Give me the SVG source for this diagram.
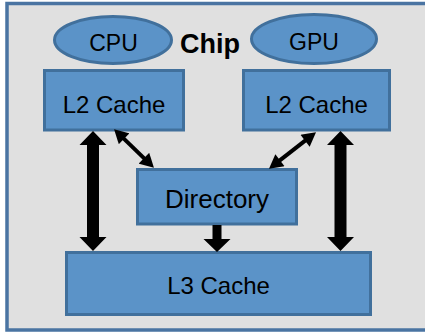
<svg xmlns="http://www.w3.org/2000/svg" width="425" height="335" viewBox="0 0 425 335">
<style>
.node{fill:#5B93C8;stroke:#41709C;stroke-width:3}
.lbl{font-family:"Liberation Sans",Arial,sans-serif;font-size:24px;fill:#000;text-anchor:middle}
.title{font-family:"Liberation Sans",Arial,sans-serif;font-size:27px;font-weight:bold;fill:#000}
.blk{fill:#000}
.thin{stroke:#000;stroke-width:4;fill:none;marker-start:url(#ah);marker-end:url(#ah)}
</style>
<defs>
<marker id="ah" markerUnits="userSpaceOnUse" markerWidth="15" markerHeight="15" viewBox="0 0 12 13" refX="4" refY="6.5" orient="auto-start-reverse">
<path d="M0,0 L12,6.5 L0,13 Z" fill="#000"/>
</marker>
</defs>
<g id="chip">
<rect x="7" y="3.5" width="430" height="326.5" fill="#E0E0E0" stroke="#4A74A2" stroke-width="3.5"/>
<text class="title" x="180" y="53">Chip</text>
</g>
<g id="cpu">
<ellipse class="node" cx="113" cy="40" rx="58.5" ry="23.5"/>
<text class="lbl" x="113.5" y="51" style="font-size:23px">CPU</text>
</g>
<g id="gpu">
<ellipse class="node" cx="314" cy="39" rx="62.5" ry="24.5"/>
<text class="lbl" x="314" y="50" style="font-size:23px">GPU</text>
</g>
<g id="l2-cpu">
<rect class="node" x="44.5" y="70.5" width="139" height="59.5"/>
<text class="lbl" x="114" y="113">L2 Cache</text>
</g>
<g id="l2-gpu">
<rect class="node" x="243.5" y="70.5" width="146" height="59.5"/>
<text class="lbl" x="316.5" y="113">L2 Cache</text>
</g>
<g id="directory">
<rect class="node" x="137.5" y="169.5" width="159" height="54.5"/>
<text class="lbl" x="217" y="208" style="font-size:26px">Directory</text>
</g>
<g id="l3">
<rect class="node" x="66.5" y="252.5" width="304" height="62"/>
<text class="lbl" x="218.5" y="294">L3 Cache</text>
</g>
<g id="connectors">
<path class="blk" d="M93,131 L106.5,145 L99,145 L99,237 L106.5,237 L93,251 L79.5,237 L87,237 L87,145 L79.5,145 Z"/>
<path class="blk" d="M340.5,131 L354,145 L346.5,145 L346.5,237 L354,237 L340.5,251 L327,237 L334.5,237 L334.5,145 L327,145 Z"/>
<path class="blk" d="M212.5,225 L221.5,225 L221.5,239 L230.5,239 L217,252 L203.5,239 L212.5,239 Z"/>
<line class="thin" x1="120.7" y1="135.6" x2="147.3" y2="161.4"/>
<line class="thin" x1="308.7" y1="137.9" x2="276.3" y2="163.1"/>
</g>
</svg>
